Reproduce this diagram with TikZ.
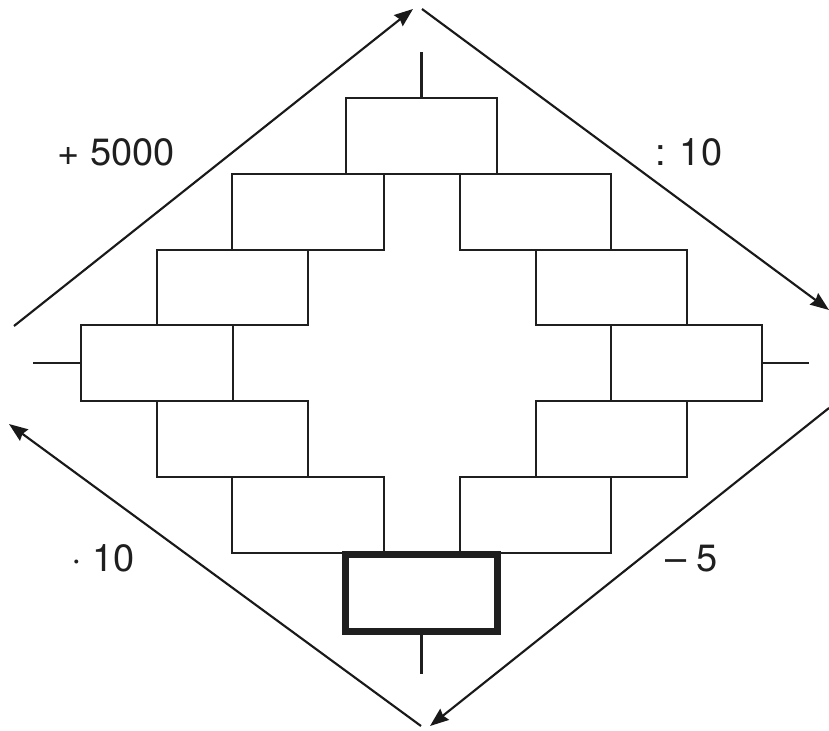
\documentclass[tikz,border=0pt]{standalone}
\usepackage{fontspec}
\setmainfont{TeX Gyre Heros}
\usetikzlibrary{arrows.meta}
\begin{document}
\begin{tikzpicture}[x={(0.75pt,0)},y={(0,-0.75pt)},
  brick/.style={draw=black!88,line width=1.6pt,inner sep=0pt,outer sep=0pt,
    minimum width=113.6pt,minimum height=56.8pt},
  boldbrick/.style={brick,line width=5.2pt,minimum height=57.5pt},
  tick/.style={draw=black!88,line width=1.6pt},
  cyc/.style={draw=black!90,line width=1.6pt,-{Stealth[length=14pt,width=10.5pt,inset=1.5pt]}},
  lab/.style={anchor=base west,inner sep=0pt,font=\fontsize{28.5}{34}\selectfont,text=black!88}]
\useasboundingbox (0,0) rectangle (829,731);
% bricks
\node[brick] (b1)  at (421.5,136) {};
\node[brick] (b2l) at (308,211.75) {};
\node[brick] (b2r) at (535.5,211.75) {};
\node[brick] (b3l) at (232.5,287.5) {};
\node[brick] (b3r) at (611.5,287.5) {};
\node[brick] (b4l) at (157,363.25) {};
\node[brick] (b4r) at (686.5,363.25) {};
\node[brick] (b5l) at (232.5,439) {};
\node[brick] (b5r) at (611.5,439) {};
\node[brick] (b6l) at (308,514.75) {};
\node[brick] (b6r) at (535.5,514.75) {};
\node[boldbrick] (b7) at (421.5,593) {};
% tick ends
\coordinate (tt) at (421.5,52);
\coordinate (tb) at (421.5,674);
\coordinate (tl) at (33,363.25);
\coordinate (tr) at (809,363.25);
\draw[tick] (b1.north) -- (tt);
\draw[tick] (b7.south) -- (tb);
\draw[tick] (b4l.west) -- (tl);
\draw[tick] (b4r.east) -- (tr);
% cycle arrows
\coordinate (a1s) at (14,326);
\coordinate (a1e) at (413,9);
\coordinate (a2s) at (422,9);
\coordinate (a2e) at (829,310);
\coordinate (a3s) at (829,408);
\coordinate (a3e) at (430,726);
\coordinate (a4s) at (421,726);
\coordinate (a4e) at (9,424);
\draw[cyc] (a1s) -- (a1e);
\draw[cyc] (a2s) -- (a2e);
\draw[cyc] (a3s) -- (a3e);
\draw[cyc] (a4s) -- (a4e);
% labels
\node[lab] (l1) at (57,166) {+ 5000};
\node[lab] (l2) at (655,166) {: 10};
\node[lab] (l3) at (71,571) {· 10};
\node[lab] (l4) at (665,571) {– 5};
\end{tikzpicture}
\end{document}
